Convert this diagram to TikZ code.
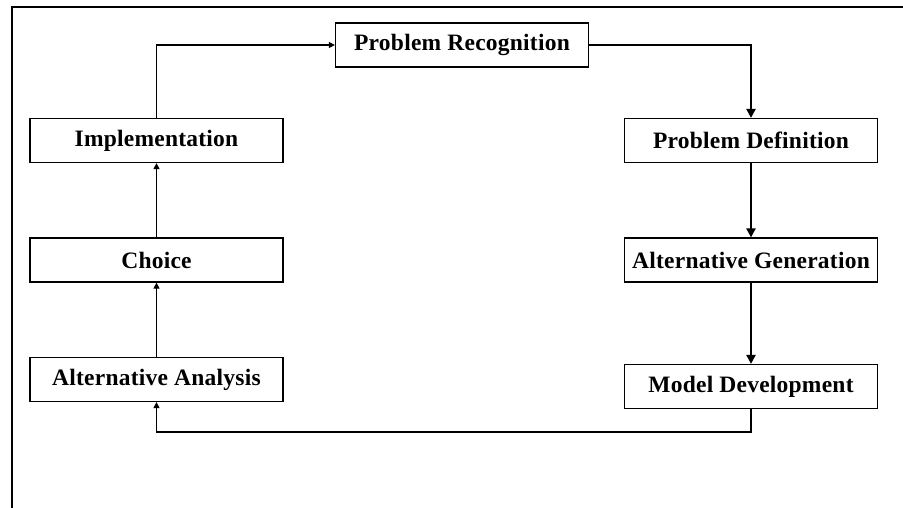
\documentclass[tikz,border=0pt]{standalone}
\usepackage{fontspec}
\setmainfont{Liberation Serif}
\newfontfamily\stagefont[LetterSpace=1]{Liberation Serif}
\usetikzlibrary{arrows.meta}
\begin{document}
\begin{tikzpicture}[x=1pt,y=-1pt,
  stagebox/.style={draw=black, line width=1.2pt, minimum width=253pt, minimum height=44pt, inner sep=0pt,
    font=\stagefont\fontsize{23.5}{28}\selectfont\bfseries},
  thinflow/.style={draw=black, line width=1.1pt, -{Triangle[length=6pt,width=6pt]}},
  thickflow/.style={draw=black, line width=2.2pt, -{Triangle[length=9pt,width=9pt]}},
  frameline/.style={draw=black, line width=1.5pt}]
\useasboundingbox (0,0) rectangle (903,508);
\fill[white] (0,0) rectangle (903,508);
\coordinate (ftop) at (903,7);
\coordinate (fcorner) at (12,7);
\coordinate (fbottom) at (12,508);
\draw[frameline] (ftop) -- (fcorner) -- (fbottom);
\node[stagebox] (rec) at (462,45) {Problem Recognition};
\node[stagebox] (impl) at (156.5,140.5) {Implementation};
\node[stagebox] (choice) at (156.5,260) {Choice};
\node[stagebox] (analysis) at (156.5,379.5) {Alternative Analysis};
\node[stagebox] (defn) at (751,140.5) {Problem Definition};
\node[stagebox] (gen) at (751,260) {Alternative Generation};
\node[stagebox] (model) at (751,386.5) {Model Development};
\draw[thinflow] (impl.north) |- (rec.west);
\draw[thickflow] (rec.east) -| (defn.north);
\draw[thickflow] (defn.south) -- (gen.north);
\draw[thickflow] (gen.south) -- (model.north);
\coordinate (loopy) at (0,432);
\draw[thinflow] (model.south) -- (model.south |- loopy) -| (analysis.south);
\draw[thinflow] (analysis.north) -- (choice.south);
\draw[thinflow] (choice.north) -- (impl.south);
\end{tikzpicture}
\end{document}
